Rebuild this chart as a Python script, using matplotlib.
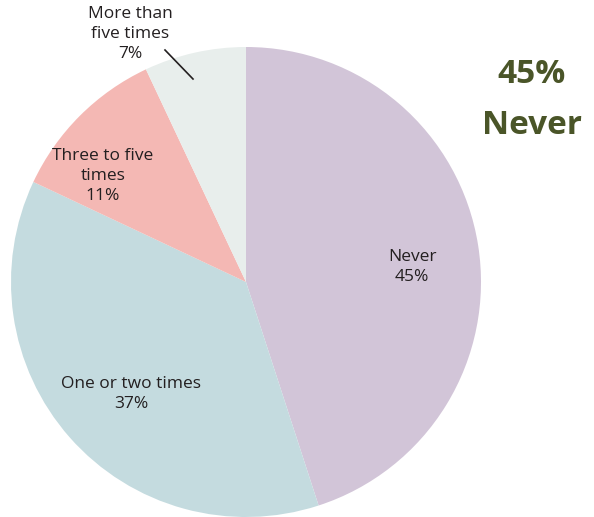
import matplotlib
matplotlib.use("Agg")
from matplotlib import pyplot as plt

# 数据
labels = ["Never\n45%", "One or two times\n37%", "Three to five\ntimes\n11%", "More than\nfive times\n7%"]
values = [45, 37, 11, 7]
colors = ["#d2c5d8", "#c4dbdf", "#f4b8b4", "#e8eeec"]

W, H = 594, 517
fig = plt.figure(figsize=(W / 100, H / 100), dpi=100)
ax = fig.add_axes([0, 0, 1, 1])

cx, cy, r = 246, H - 282, 235
wedges, _ = ax.pie(values, colors=colors, startangle=90, counterclock=False,
                   center=(cx, cy), radius=r, frame=True)
ax.set_xlim(0, W)
ax.set_ylim(0, H)
ax.set_aspect("equal")
ax.axis("off")

font = "Open Sans"
lab_pos = [(412, H - 267), (131, H - 394), (103, H - 176), (130, H - 34)]
for lab, (x, y) in zip(labels, lab_pos):
    ax.text(x, y, lab, ha="center", va="center", fontsize=12.5, family=font,
            color="#231f20", linespacing=1.3)

# 引线
ax.plot([165, 193], [H - 50, H - 79], color="#231f20", lw=1.2)

ax.text(532, H - 100, "45%\nNever", ha="center", va="center", fontsize=24,
        fontweight="bold", family=font, color="#4a5528", linespacing=1.7)

plt.savefig("out.png", dpi=100)
